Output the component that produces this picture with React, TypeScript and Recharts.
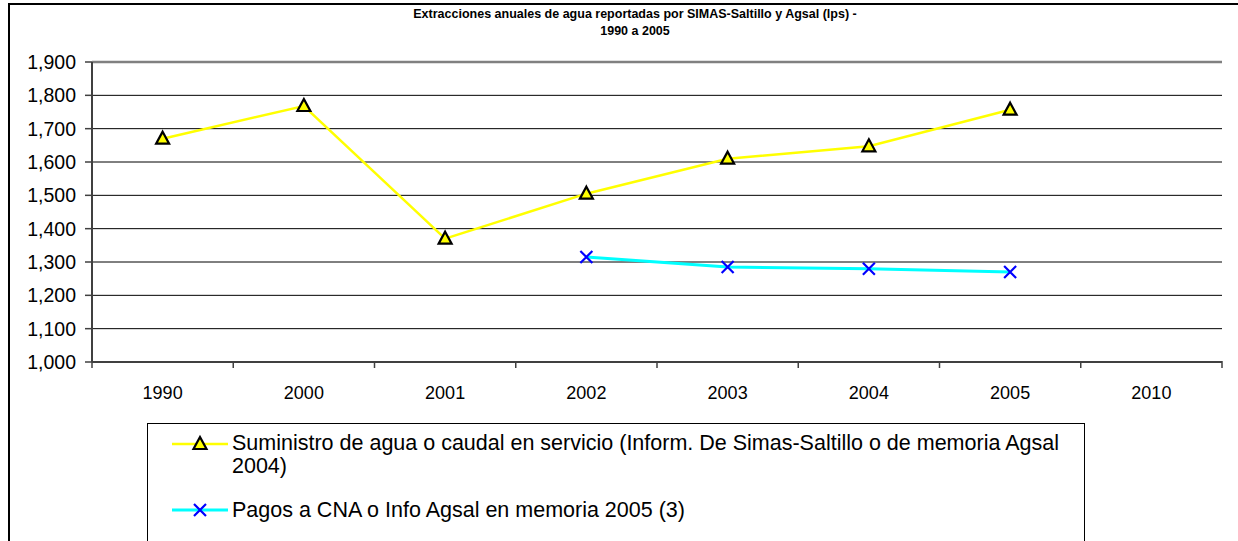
import React from "react";
import { CartesianGrid, Line, LineChart, XAxis, YAxis } from "recharts";

const years = ["1990", "2000", "2001", "2002", "2003", "2004", "2005", "2010"];
const suministro = [1670, 1768, 1370, 1505, 1610, 1647, 1757, null];
const pagos = [null, null, null, 1315, 1285, 1280, 1270, null];
const yTicks = [1000, 1100, 1200, 1300, 1400, 1500, 1600, 1700, 1800, 1900];

const title1 = "Extracciones anuales de agua reportadas por SIMAS-Saltillo y Agsal (lps) -";
const title2 = "1990 a 2005";
const legend1a = "Suministro de agua o caudal en servicio (Inform. De Simas-Saltillo o de memoria Agsal";
const legend1b = "2004)";
const legend2 = "Pagos a CNA o Info Agsal en memoria 2005 (3)";

const data = years.map((y, i) => ({ year: y, suministro: suministro[i], pagos: pagos[i] }));

const font = "Arial, 'Liberation Sans', sans-serif";
// half of one category slot: plot is 1130px wide for 8 categories
const halfSlot = 1130 / 8 / 2;

function Triangle(props: any) {
  const { cx, cy } = props;
  if (cx == null || cy == null || props.value == null) return null;
  return (
    <path
      d={`M${cx},${cy - 7} L${cx + 6.5},${cy + 5} L${cx - 6.5},${cy + 5} Z`}
      fill="#ffff00"
      stroke="#000"
      strokeWidth={2.2}
    />
  );
}

function Cross(props: any) {
  const { cx, cy } = props;
  if (cx == null || cy == null || props.value == null) return null;
  return (
    <path
      d={`M${cx - 6},${cy - 6} L${cx + 6},${cy + 6} M${cx + 6},${cy - 6} L${cx - 6},${cy + 6}`}
      stroke="#0000ff"
      strokeWidth={2.2}
      fill="none"
    />
  );
}

function XTick(props: any) {
  const { x, y, payload, index, visibleTicksCount } = props;
  const base = y - 9;
  return (
    <g>
      <line x1={x - halfSlot} y1={base} x2={x - halfSlot} y2={base + 7} stroke="#404040" strokeWidth={1.5} />
      {index === visibleTicksCount - 1 && (
        <line x1={x + halfSlot} y1={base} x2={x + halfSlot} y2={base + 7} stroke="#404040" strokeWidth={1.5} />
      )}
      <text x={x} y={base + 38} textAnchor="middle" fontSize={18} fontFamily={font} fill="#000">
        {payload.value}
      </text>
    </g>
  );
}

function GridLine(props: any) {
  const { x1, x2, y1, y2, index } = props;
  const top = index === yTicks.length - 1;
  return (
    <line
      x1={x1}
      x2={x2}
      y1={y1}
      y2={y2}
      stroke={top ? "#808080" : "#000"}
      strokeWidth={top ? 2.5 : 1}
    />
  );
}

export default function App() {
  return (
    <div style={{ position: "absolute", left: 0, top: 0, width: 1238, height: 541, background: "#fff", overflow: "hidden" }}>
      <div
        style={{
          position: "absolute",
          left: 8,
          top: 3,
          width: 1240,
          height: 560,
          borderLeft: "2px solid #000",
          borderTop: "2px solid #000",
        }}
      />
      <div
        style={{
          position: "absolute",
          left: 0,
          top: 6,
          width: 1270,
          textAlign: "center",
          fontFamily: font,
          fontWeight: "bold",
          fontSize: 12.5,
          lineHeight: "17px",
        }}
      >
        <div>{title1}</div>
        <div>{title2}</div>
      </div>
      <div style={{ position: "absolute", left: 0, top: 0 }}>
        <LineChart width={1238} height={541} data={data} margin={{ top: 62, right: 16, left: 2, bottom: 139 }}>
          <CartesianGrid horizontal={GridLine} vertical={false} />
          <XAxis
            dataKey="year"
            height={40}
            interval={0}
            padding={{ left: halfSlot, right: halfSlot }}
            axisLine={{ stroke: "#404040", strokeWidth: 2 }}
            tickLine={false}
            tick={<XTick />}
          />
          <YAxis
            width={90}
            domain={[1000, 1900]}
            ticks={yTicks}
            interval={0}
            axisLine={{ stroke: "#404040", strokeWidth: 2 }}
            tickLine={{ stroke: "#404040", strokeWidth: 1.5 }}
            tickSize={7}
            tickFormatter={(v: number) => v.toLocaleString("en-US")}
            tick={{ fontSize: 19.5, fontFamily: font, fill: "#000", dx: -7 }}
          />
          <YAxis
            yAxisId="frame"
            orientation="right"
            width={0}
            domain={[1000, 1900]}
            ticks={yTicks}
            axisLine={{ stroke: "#808080", strokeWidth: 2.5 }}
            tickLine={false}
            tick={false}
          />
          <Line
            dataKey="suministro"
            stroke="#ffff00"
            strokeWidth={2.5}
            dot={<Triangle />}
            activeDot={false}
            isAnimationActive={false}
            connectNulls={false}
          />
          <Line
            dataKey="pagos"
            stroke="#00ffff"
            strokeWidth={3}
            dot={<Cross />}
            activeDot={false}
            isAnimationActive={false}
            connectNulls={false}
          />
        </LineChart>
      </div>
      <div
        style={{
          position: "absolute",
          left: 147,
          top: 423,
          width: 936,
          height: 140,
          border: "1px solid #000",
          fontFamily: font,
          fontSize: 21.5,
          lineHeight: "23px",
          whiteSpace: "nowrap",
        }}
      >
        <svg style={{ position: "absolute", left: 24, top: 9 }} width={58} height={20}>
          <line x1={0} y1={11} x2={56} y2={11} stroke="#ffff00" strokeWidth={2.5} />
          <path d="M28,4 L34.5,16 L21.5,16 Z" fill="#ffff00" stroke="#000" strokeWidth={2.2} />
        </svg>
        <div style={{ position: "absolute", left: 84, top: 8 }}>
          <div>{legend1a}</div>
          <div>{legend1b}</div>
        </div>
        <svg style={{ position: "absolute", left: 24, top: 76 }} width={58} height={20}>
          <line x1={0} y1={10} x2={56} y2={10} stroke="#00ffff" strokeWidth={3} />
          <path d="M22,4 L34,16 M34,4 L22,16" stroke="#0000ff" strokeWidth={2.2} fill="none" />
        </svg>
        <div style={{ position: "absolute", left: 84, top: 75 }}>{legend2}</div>
      </div>
    </div>
  );
}
